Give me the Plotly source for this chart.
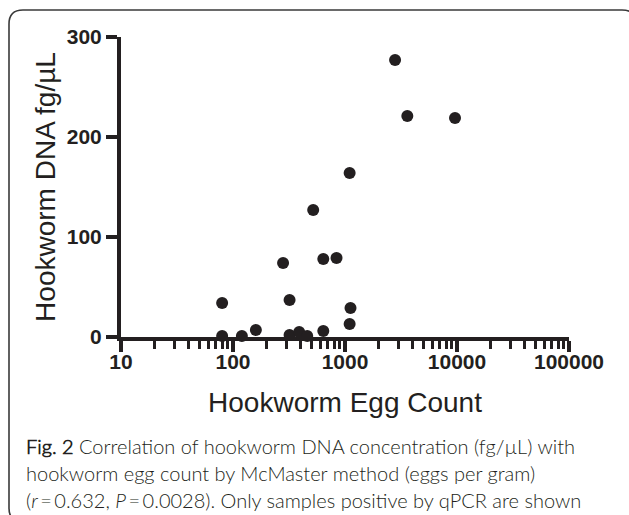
import plotly.graph_objects as go

# Data
egg_count = [80, 80, 120, 160, 280, 320, 320, 390, 460, 520, 640, 640, 840, 1100, 1100, 1120, 2800, 3600, 9600]
dna_fg = [34, 1, 1, 7, 74, 37, 2, 5, 1, 127, 78, 6, 79, 164, 13, 29, 277, 221, 219]

x_tickvals = [10, 100, 1000, 10000, 100000]
x_ticktext = ["10", "100", "1000", "10000", "100000"]
y_tickvals = [0, 100, 200, 300]

W, H = 629, 515
L, R, T, B = 121, 60, 37, 178
INK = "#231f20"


def px_x(p):
    return (p - L) / (W - L - R)


def px_y(p):
    return 1 - (p - T) / (H - T - B)


fig = go.Figure()
fig.add_trace(go.Scatter(
    x=egg_count, y=dna_fg, mode="markers",
    marker=dict(size=12, color=INK, line=dict(width=0)),
    cliponaxis=False, showlegend=False,
))

fig.update_layout(
    width=W, height=H,
    margin=dict(l=L, r=R, t=T, b=B, pad=0),
    paper_bgcolor="white", plot_bgcolor="white",
    font=dict(family="Liberation Sans, Arial, sans-serif", color=INK),
)

fig.update_xaxes(
    type="log", range=[1, 5],
    tickvals=x_tickvals, ticktext=x_ticktext,
    showgrid=False, zeroline=False,
    showline=True, linewidth=4, linecolor=INK,
    ticks="outside", ticklen=11, tickwidth=4, tickcolor=INK,
    ticklabelstandoff=-8,
    tickfont=dict(size=21, family="Liberation Sans", weight="bold", color=INK),
    minor=dict(ticks="outside", ticklen=8, tickwidth=3, tickcolor=INK, dtick="D1", showgrid=False),
    title=dict(text="Hookworm Egg Count", font=dict(size=28, color=INK), standoff=21),
)
fig.update_yaxes(
    range=[0, 300], tickvals=y_tickvals,
    showgrid=False, zeroline=False,
    showline=True, linewidth=4, linecolor=INK,
    ticks="outside", ticklen=11, tickwidth=4, tickcolor=INK,
    tickfont=dict(size=21, family="Liberation Sans", weight="bold", color=INK),
    title=dict(text="Hookworm DNA fg/µL", font=dict(size=28, color=INK), standoff=4),
)

# rounded frame
x0, y0, x1, y1, r = px_x(9), px_y(10), px_x(636), px_y(522), 14
rx = r / (W - L - R)
ry = r / (H - T - B)
path = (f"M {x0+rx},{y0} L {x1-rx},{y0} Q {x1},{y0} {x1},{y0-ry} "
        f"L {x1},{y1+ry} Q {x1},{y1} {x1-rx},{y1} L {x0+rx},{y1} "
        f"Q {x0},{y1} {x0},{y1+ry} L {x0},{y0-ry} Q {x0},{y0} {x0+rx},{y0} Z")
fig.add_shape(type="path", path=path, xref="paper", yref="paper",
              line=dict(color="#3a3a3a", width=1.6), fillcolor="rgba(0,0,0,0)", layer="above")

caption_lines = [
    "<b>Fig. 2</b> Correlation of hookworm DNA concentration (fg/µL) with",
    "hookworm egg count by McMaster method (eggs per gram)",
    "(<i>r</i>\u2009=\u20090.632, <i>P</i>\u2009=\u20090.0028). Only samples positive by qPCR are shown",
]
caption_y = [446, 473, 500]
for txt, yy in zip(caption_lines, caption_y):
    fig.add_annotation(
        text=txt, xref="paper", yref="paper", x=px_x(24), y=px_y(yy),
        xanchor="left", yanchor="middle", showarrow=False,
        font=dict(family="Lato Light, Lato", size=20, color=INK, weight=300),
    )

fig.write_html(
    "out.html",
    config={"displayModeBar": False},
    post_script="document.body.style.margin='0';document.body.style.overflow='hidden';",
)
